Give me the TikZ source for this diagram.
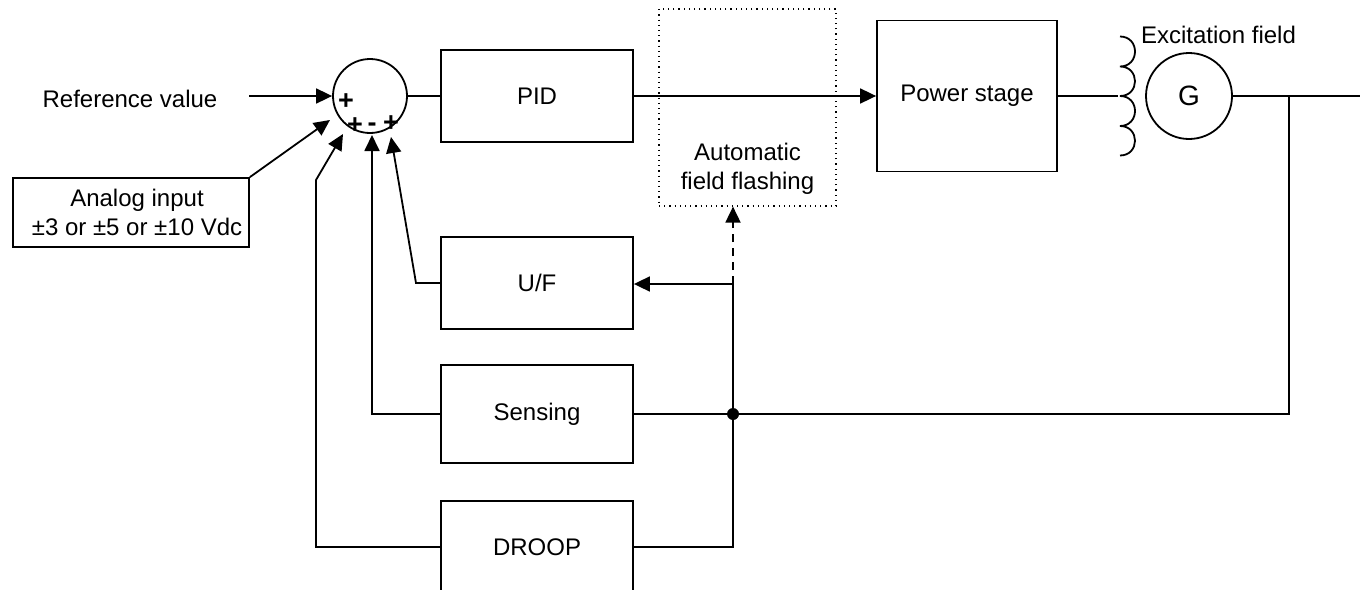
\documentclass[tikz,border=0pt]{standalone}
\usepackage{fontspec}
\setmainfont{Liberation Sans}
\usetikzlibrary{arrows.meta}
\begin{document}
\begin{tikzpicture}[x=0.5pt,y=-0.5pt, line width=0.9pt,
  >={Triangle[length=8pt,width=7.5pt]},
  box/.style={draw, rectangle, minimum width=96pt, minimum height=46pt, inner sep=0pt, font=\fontsize{12}{14.5}\selectfont},
  txt/.style={font=\fontsize{12}{14.5}\selectfont, inner sep=0pt, align=center},
  sgn/.style={font=\bfseries\fontsize{13.5}{13.5}\selectfont, inner sep=0pt, text height=6.5pt, text depth=0pt}]
\useasboundingbox (0,0) rectangle (1360,589);
\clip (0,0) rectangle (1360,589);
% blocks
\node[box] (pid) at (537,96) {PID};
\node[box] (uf) at (537,283) {U/F};
\node[box, minimum height=49pt] (sens) at (537,414) {Sensing};
\node[box] (droop) at (537,547) {DROOP};
\node[box, minimum width=90pt, minimum height=75.5pt] (power) at (967,96) {Power stage};
\node[draw, dotted, line width=0.6pt, minimum width=88.5pt, minimum height=98.5pt, inner sep=0pt] (flash) at (747.5,107.5) {};
\node[txt] (flashtxt) at (747.5,168.5) {Automatic\\field flashing};
\node[box, minimum width=118pt, minimum height=34.5pt, align=center] (analog) at (131,212.5)
  {\hspace*{6pt}Analog input\\\hspace*{6pt}±3 or ±5 or ±10 Vdc};
\node[draw, circle, minimum size=37pt, inner sep=0pt] (sum) at (370,96) {};
\node[draw, circle, minimum size=43pt, inner sep=0pt, font=\fontsize{14}{14}\selectfont] (gen) at (1189,96) {G};
% texts
\node[txt] (ref) at (130,99) {Reference value};
\node[txt] (exc) at (1218.5,35) {Excitation field};
\node[sgn] (s1) at (346,102.5) {+};
\node[sgn] (s2) at (355,126.6) {+};
\node[sgn] (s3) at (372,124.8) {-};
\node[sgn] (s4) at (391,124.6) {+};
% coordinates
\coordinate (coilIn) at (1118,96);
\coordinate (out) at (1360,96);
\coordinate (jR) at (1289,96);
\coordinate (jdot) at (733,414);
\coordinate (jUF) at (733,284);
\coordinate (tipA) at (330,120);
\coordinate (tipD) at (343,134);
\coordinate (tipS) at (372,135);
\coordinate (tipU) at (391,137);
\coordinate (droopUp) at (316,180);
\coordinate (ufBend) at (416,283);
% connectors
\draw[<-] (sum.west) -- ++(-83,0);
\draw (sum.east) -- (pid.west);
\draw[->] (pid.east) -- (power.west);
\draw (power.east) -- (coilIn);
\draw (1120,36.5) .. controls (1140,36.5) and (1140,66.5) .. (1120,66.5)
      .. controls (1140,66.5) and (1140,96) .. (1120,96)
      .. controls (1140,96) and (1140,126) .. (1120,126)
      .. controls (1140,126) and (1140,155.5) .. (1120,155.5);
\draw (gen.east) -- (out);
\draw (jR) |- (jdot) -- (sens.east);
\fill (jdot) circle[radius=3pt];
\draw[->] (jdot) -- (jUF) -- (jUF -| uf.east);
\draw[->, dash pattern=on 4pt off 3pt] (jUF) -- (flash.south -| jUF);
\draw (jdot) |- (droop.east);
\draw[->] (sens.west) -| (tipS);
\draw[->] (uf.west) -- (ufBend) -- (tipU);
\draw[->] (droop.west) -| (droopUp) -- (tipD);
\draw[->] (analog.north east) -- (tipA);
\end{tikzpicture}
\end{document}
